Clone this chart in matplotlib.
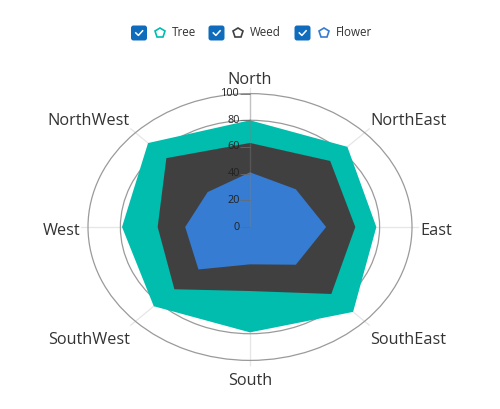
import numpy as np
import matplotlib.pyplot as plt
from matplotlib.patches import FancyBboxPatch
from matplotlib.lines import Line2D
from matplotlib.path import Path
from matplotlib.transforms import IdentityTransform, offset_copy

# data
directions = ['North', 'NorthEast', 'East', 'SouthEast', 'South', 'SouthWest', 'West', 'NorthWest']
tree = [80, 85, 78, 90, 79, 84, 79, 89]
weed = [63, 70, 65, 71, 48, 66, 57, 73]
flower = [41, 40, 47, 40, 28, 45, 40, 37]
r_ticks = [0, 20, 40, 60, 80, 100]

names = ['Tree', 'Weed', 'Flower']
colors = ['#00bdae', '#404041', '#357cd2']
values = [tree, weed, flower]

plt.rcParams['font.family'] = ['Open Sans', 'DejaVu Sans']

W, H = 500, 409
fig = plt.figure(figsize=(W / 100, H / 100), dpi=100)

# plot area: centre and radii (px) of the 100 ring, spokes go a bit further
cx, cy, rx, ry = 250, 227, 162, 133.4
ext = 1.045
ax = fig.add_axes([(cx - rx * ext) / W, 1 - (cy + ry * ext) / H,
                   2 * rx * ext / W, 2 * ry * ext / H], projection='polar')
ax.set_aspect('auto')
ax.set_theta_zero_location('N')
ax.set_theta_direction(-1)
ax.set_ylim(0, 100 * ext)

theta = np.arange(len(directions)) * 2 * np.pi / len(directions)
ax.set_xticks(theta)
ax.set_xticklabels([])
ax.set_yticks(r_ticks[1:])
ax.set_yticklabels([])
ax.xaxis.grid(True, color='#e6e6e6', lw=0.9)
ax.yaxis.grid(True, color='#9a9a9a', lw=0.9)
ax.spines['polar'].set_visible(False)
ax.tick_params(length=0)
ax.set_axisbelow(True)

closed = np.append(theta, theta[0])
for name, vals, c in zip(names, values, colors):
    ax.fill(closed, np.append(vals, vals[0]), color=c, lw=0, zorder=2)

# vertical value axis on north spoke
ax.plot([0, 0], [0, 100], color='#808080', alpha=0.35, lw=1, zorder=3)
tick_marker = Path([(-1, 0), (0, 0)])
ax.plot([0] * len(r_ticks), r_ticks, ls='none', marker=tick_marker, ms=14,
        mec='#6a6a6a', mew=0.7, alpha=0.8, zorder=3)
lab_tr = offset_copy(ax.transData, fig=fig, x=-10, y=0, units='dots')
for r in r_ticks:
    ax.text(0, r, str(r), transform=lab_tr, ha='right', va='center',
            fontsize=7.8, color='#222222', zorder=4)

# direction labels, placed on baseline relative to spoke end
for t, d in zip(theta, directions):
    s, c = np.sin(t), np.cos(t)
    ha = 'center' if abs(s) < 0.1 else ('left' if s > 0 else 'right')
    dy = 2.5 if c > 0.1 else (-8 if abs(c) < 0.1 else -18)
    tr = offset_copy(ax.transData, fig=fig, x=0, y=dy, units='dots')
    ax.text(t, 105, d, transform=tr, ha=ha, va='baseline',
            fontsize=11.7, color='#333333')

# legend
ident = IdentityTransform()
leg_x = [131, 208.5, 294.5]
leg_y = H - 33
for x0, name, c in zip(leg_x, names, colors):
    box = FancyBboxPatch((x0, leg_y - 7.5), 16, 15,
                         boxstyle='round,pad=0,rounding_size=2.5',
                         fc='#0f6cbd', ec='none', transform=ident)
    fig.add_artist(box)
    fig.add_artist(Line2D([x0 + 4.8, x0 + 7.4, x0 + 11.6],
                          [leg_y + 0.1, leg_y - 2.4, leg_y + 2.2],
                          color='white', lw=1.1, transform=ident))
    fig.add_artist(Line2D([x0 + 29], [leg_y], marker='p', ms=7.5,
                          mfc='white', mec=c, mew=1.2, ls='none', transform=ident))
    fig.text((x0 + 41) / W, leg_y / H, name, ha='left', va='center',
             fontsize=8.4, color='#333333')

fig.savefig('out.png', dpi=100, facecolor='white')
